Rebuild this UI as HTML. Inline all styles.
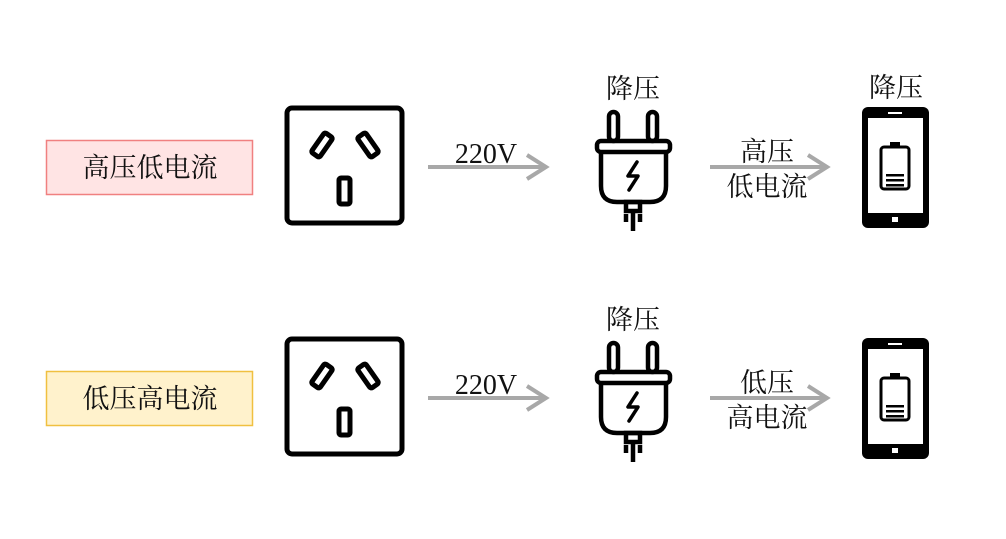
<!DOCTYPE html>
<html><head><meta charset="utf-8"><style>
body{margin:0;background:#fff}
text{font-family:"Liberation Serif","Noto Serif CJK SC",serif;fill:#111}
</style></head><body>
<svg width="1006" height="534" viewBox="0 0 1006 534" xmlns="http://www.w3.org/2000/svg">
<defs>
<g id="sock">
<rect x="287" y="108" width="115" height="115" rx="5" fill="none" stroke="#000" stroke-width="5"/>
<rect x="-5" y="-12" width="10" height="24" rx="2" fill="none" stroke="#000" stroke-width="5" transform="translate(322,145) rotate(35)"/>
<rect x="-5" y="-12" width="10" height="24" rx="2" fill="none" stroke="#000" stroke-width="5" transform="translate(368,145) rotate(-35)"/>
<rect x="339" y="178" width="11" height="26" rx="2" fill="none" stroke="#000" stroke-width="5"/>
</g>
<g id="plug" fill="none" stroke="#000" stroke-width="4.5">
<rect x="609" y="112" width="9" height="29" rx="4.5"/>
<rect x="648" y="112" width="9" height="29" rx="4.5"/>
<rect x="597" y="141" width="73" height="11" rx="4"/>
<path d="M601 152 V186 Q601 202 617 202 H650 Q666 202 666 186 V152"/>
<rect x="626" y="202" width="14" height="9"/>
<line x1="633" y1="211" x2="633" y2="231"/>
<line x1="626" y1="214" x2="626" y2="222"/>
<line x1="640" y1="214" x2="640" y2="222"/>
<path d="M637 162 L628 176 H638 L629 190" stroke-width="3.5" stroke-linecap="round" stroke-linejoin="round"/>
</g>
<g id="phone">
<rect x="862" y="107" width="67" height="121" rx="6" fill="#000"/>
<rect x="868" y="118" width="55" height="95" fill="#fff"/>
<rect x="888" y="112" width="14" height="2" fill="#fff"/>
<rect x="892" y="217" width="6" height="5" fill="#fff"/>
<rect x="881" y="147" width="28" height="42" rx="3" fill="none" stroke="#000" stroke-width="3"/>
<rect x="890" y="142" width="10" height="5" fill="#000"/>
<rect x="886" y="174" width="18" height="2.5" fill="#000"/>
<rect x="886" y="179" width="18" height="2.5" fill="#000"/>
<rect x="886" y="184" width="18" height="2.5" fill="#000"/>
</g>
<g id="arr" stroke="#a8a8a8" stroke-width="4" fill="none">
<line x1="428" y1="167" x2="546" y2="167"/>
<polyline points="527,155 546,167 527,179"/>
<line x1="710" y1="167" x2="827" y2="167"/>
<polyline points="808,155 827,167 808,179"/>
</g>
</defs>
<rect x="46.5" y="140.5" width="206" height="54" fill="#ffe4e4" stroke="#f08080" stroke-width="1.5"/>
<rect x="46.5" y="371.5" width="206" height="54" fill="#fff2cc" stroke="#f0c040" stroke-width="1.5"/>
<text x="150" y="177" font-size="27" text-anchor="middle">高压低电流</text>
<text x="150" y="408" font-size="27" text-anchor="middle">低压高电流</text>
<use href="#sock"/><use href="#sock" y="231"/>
<use href="#plug"/><use href="#plug" y="231"/>
<use href="#phone"/><use href="#phone" y="231"/>
<use href="#arr"/><use href="#arr" y="231"/>
<text x="486" y="163" font-size="28" text-anchor="middle">220V</text>
<text x="486" y="394" font-size="28" text-anchor="middle">220V</text>
<text x="633" y="98" font-size="27" text-anchor="middle">降压</text>
<text x="633" y="329" font-size="27" text-anchor="middle">降压</text>
<text x="896" y="97" font-size="27" text-anchor="middle">降压</text>
<text x="767" y="161" font-size="27" text-anchor="middle">高压</text>
<text x="767" y="196" font-size="27" text-anchor="middle">低电流</text>
<text x="767" y="392" font-size="27" text-anchor="middle">低压</text>
<text x="767" y="427" font-size="27" text-anchor="middle">高电流</text>
</svg>
</body></html>
